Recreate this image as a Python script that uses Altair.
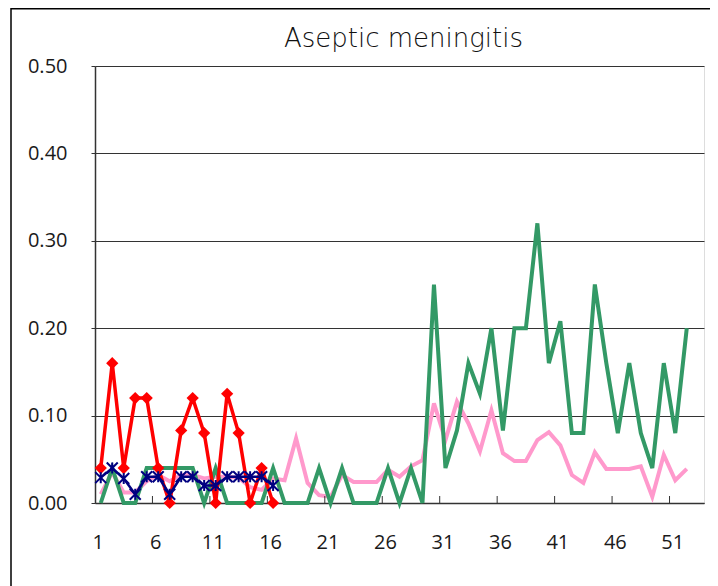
import altair as alt
import pandas as pd

weeks = list(range(1, 53))
pink = [0.010, 0.035, 0.012, 0.012, 0.025, 0.032, 0.025, 0.032, 0.032, 0.028,
        0.030, 0.030, 0.029, 0.018, 0.015, 0.028, 0.026, 0.074, 0.023, 0.009,
        0.007, 0.032, 0.024, 0.024, 0.024, 0.038, 0.030, 0.042, 0.049, 0.114,
        0.072, 0.116, 0.091, 0.059, 0.106, 0.057, 0.048, 0.048, 0.072, 0.081,
        0.066, 0.032, 0.023, 0.058, 0.039, 0.039, 0.039, 0.042, 0.007, 0.055,
        0.026, 0.039]
green = [0, 0.04, 0, 0, 0.04, 0.04, 0.04, 0.04, 0.04, 0,
         0.04, 0, 0, 0, 0, 0.04, 0, 0, 0, 0.04,
         0, 0.04, 0, 0, 0, 0.04, 0, 0.04, 0, 0.25,
         0.04, 0.083, 0.16, 0.125, 0.2, 0.083, 0.2, 0.2, 0.32, 0.16,
         0.208, 0.08, 0.08, 0.25, 0.16, 0.08, 0.16, 0.08, 0.04, 0.16,
         0.08, 0.2]
weeks_cur = list(range(1, 17))
red = [0.04, 0.16, 0.04, 0.12, 0.12, 0.04, 0, 0.083, 0.12, 0.08,
       0, 0.125, 0.08, 0, 0.04, 0]
navy = [0.029, 0.04, 0.028, 0.01, 0.03, 0.03, 0.01, 0.03, 0.03, 0.02,
        0.02, 0.03, 0.03, 0.03, 0.03, 0.02]
x_labels = [1, 6, 11, 16, 21, 26, 31, 36, 41, 46, 51]
x_ticks = [5.5, 10.5, 15.5, 20.5, 25.5, 30.5, 35.5, 40.5, 45.5, 50.5]
y_ticks = [0.0, 0.1, 0.2, 0.3, 0.4, 0.5]
title_text = ["Aseptic meningitis"]

W, H = 609, 437
FONT = "DejaVu Sans"
LFONT = "Open Sans"

df_pink = pd.DataFrame({"week": weeks, "v": pink})
df_green = pd.DataFrame({"week": weeks, "v": green})
df_red = pd.DataFrame({"week": weeks_cur, "v": red})
df_navy = pd.DataFrame({"week": weeks_cur, "v": navy})
df_ticks = pd.DataFrame({"t": x_ticks})
df_title = pd.DataFrame({"txt": title_text})

xs = alt.Scale(domain=[0.5, 53.5], nice=False, zero=False)
ys = alt.Scale(domain=[0, 0.5], nice=False)

x_enc = alt.X("week:Q", scale=xs, title=None,
              axis=alt.Axis(values=x_labels, ticks=False, grid=False,
                            labelPadding=29, labelFontSize=20, labelFont=LFONT,
                            labelFontWeight="normal", labelOffset=-3,
                            labelColor="#1a1a1a", domainColor="#333", domainWidth=1.5,
                            labelFlush=False))
y_enc = alt.Y("v:Q", scale=ys, title=None,
              axis=alt.Axis(values=y_ticks, format=".2f", tickSize=4, tickColor="#333",
                            labelPadding=24, labelFontSize=20, labelFont=LFONT,
                            labelFontWeight="normal",
                            labelColor="#1a1a1a", domainColor="#333", domainWidth=1.5,
                            grid=True, gridColor="#333", gridWidth=1))

base_pink = alt.Chart(df_pink).mark_line(color="#FF99CC", strokeWidth=4).encode(x=x_enc, y=y_enc)
base_green = alt.Chart(df_green).mark_line(color="#339966", strokeWidth=4).encode(x="week:Q", y="v:Q")
red_line = alt.Chart(df_red).mark_line(color="#FF0000", strokeWidth=3.5).encode(x="week:Q", y="v:Q")
red_pts = alt.Chart(df_red).mark_point(shape="diamond", filled=True, color="#FF0000",
                                       size=150, opacity=1).encode(x="week:Q", y="v:Q")
navy_line = alt.Chart(df_navy).mark_line(color="#000080", strokeWidth=2.5).encode(x="week:Q", y="v:Q")
navy_pts = alt.Chart(df_navy).mark_point(shape="M-1,-1L1,1M-1,1L1,-1M0,-1L0,1", filled=False,
                                         color="#000080", size=121, strokeWidth=2,
                                         opacity=1).encode(x="week:Q", y="v:Q")
tick_marks = alt.Chart(df_ticks).mark_rule(color="#333", strokeWidth=1).encode(
    x="t:Q", y=alt.value(H), y2=alt.value(H - 7))
frame = alt.Chart(pd.DataFrame({"a": [0]})).mark_rect(
    fill="transparent", stroke="#000", strokeWidth=1.5).encode(
    x=alt.value(11 - 95), x2=alt.value(711 - 95), y=alt.value(8.75 - 66), y2=alt.value(620 - 66))
title = alt.Chart(df_title).mark_text(font=FONT, fontSize=26, fontWeight=300, color="#111",
                                      align="center", baseline="alphabetic").encode(
    text="txt:N", x=alt.value(W / 2 + 4), y=alt.value(47 - 66))

chart = alt.layer(frame, base_pink, base_green, red_line, red_pts, navy_line, navy_pts,
                  tick_marks, title).properties(
    width=W, height=H,
    autosize=alt.AutoSizeParams(type="none"),
    padding={"left": 87, "top": 58, "right": 6, "bottom": 83},
).configure_view(stroke="#888", strokeWidth=2).configure(background="white")

chart.save("out.html", embed_options={"renderer": "svg", "actions": False})
